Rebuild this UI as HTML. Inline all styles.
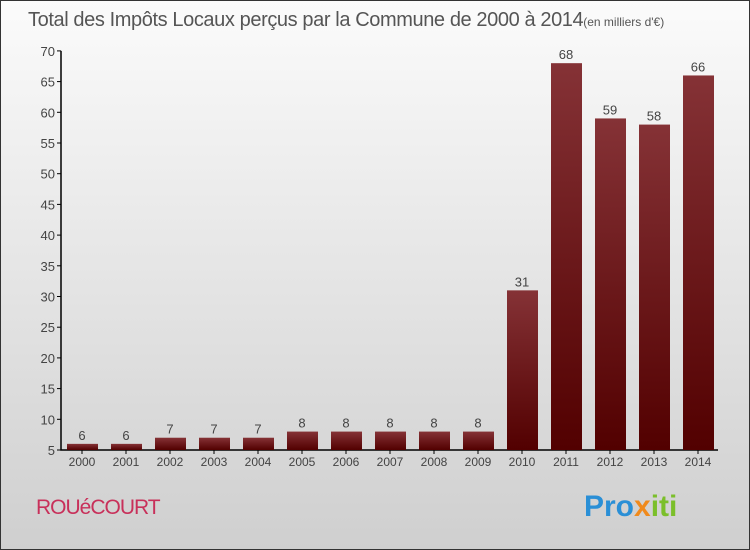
<!DOCTYPE html>
<html><head><meta charset="utf-8"><style>
body{margin:0}
#c{width:750px;height:550px;position:relative;box-sizing:border-box;border:1px solid #333;background:linear-gradient(#fbfbfb,#cfcfcf);font-family:"Liberation Sans",sans-serif;overflow:hidden}
</style></head><body>
<div id="c">
<svg width="750" height="550" style="position:absolute;left:-1px;top:-1px" id="svg">
<defs><linearGradient id="g" x1="0" y1="0" x2="0" y2="1"><stop offset="0" stop-color="#853236"/><stop offset="1" stop-color="#520000"/></linearGradient></defs>
<text x="28" y="26" font-size="20" fill="#555" letter-spacing="-0.4">Total des Impôts Locaux perçus par la Commune de 2000 à 2014<tspan font-size="12" letter-spacing="0">(en milliers d'€)</tspan></text>
<text x="36" y="514" font-size="21" fill="#c8305a" letter-spacing="-1">ROUéCOURT</text>
<text x="584" y="516" font-size="30" font-weight="bold"><tspan fill="#2a8fd6">Pro</tspan><tspan fill="#f08a1c">x</tspan><tspan fill="#7bbf2a">iti</tspan></text>
<g id="plot"></g>
</svg>
</div>
<script>
const years=["2000","2001","2002","2003","2004","2005","2006","2007","2008","2009","2010","2011","2012","2013","2014"];
const values=[6,6,7,7,7,8,8,8,8,8,31,68,59,58,66];
const ticks=[5,10,15,20,25,30,35,40,45,50,55,60,65,70];
const NS="http://www.w3.org/2000/svg";
const g=document.getElementById('plot');
const y=v=>450-(v-5)*6.14;
const x=i=>82+44*i;
function mk(t,a){const e=document.createElementNS(NS,t);for(const k in a)e.setAttribute(k,a[k]);g.appendChild(e);return e;}
const ax=mk('path',{d:'M61,'+y(70)+'V450H718',stroke:'#000',fill:'none','stroke-width':1.5});


ticks.forEach(t=>{
 const l=mk('line',{x1:57,x2:61,y1:y(t),y2:y(t),stroke:'#000'});
 
 
 const tx=mk('text',{x:55,y:y(t)+5,'text-anchor':'end','font-size':13,fill:'#444'});
 tx.textContent=t;
 
 
});
years.forEach((yr,i)=>{
 const v=values[i];
 const r=mk('rect',{x:x(i)-15,y:y(v),width:31,height:450-y(v),fill:'url(#g)'});
 
 
 const lb=mk('text',{x:x(i),y:y(v)-4,'text-anchor':'middle','font-size':13,fill:'#444'});
 lb.textContent=v;
 
 
 const tk=mk('line',{x1:x(i),x2:x(i),y1:450,y2:454,stroke:'#000'});
 
 
 const xl=mk('text',{x:x(i),y:466,'text-anchor':'middle','font-size':12,fill:'#444'});
 xl.textContent=yr;
 
 
});
</script>
</body></html>
